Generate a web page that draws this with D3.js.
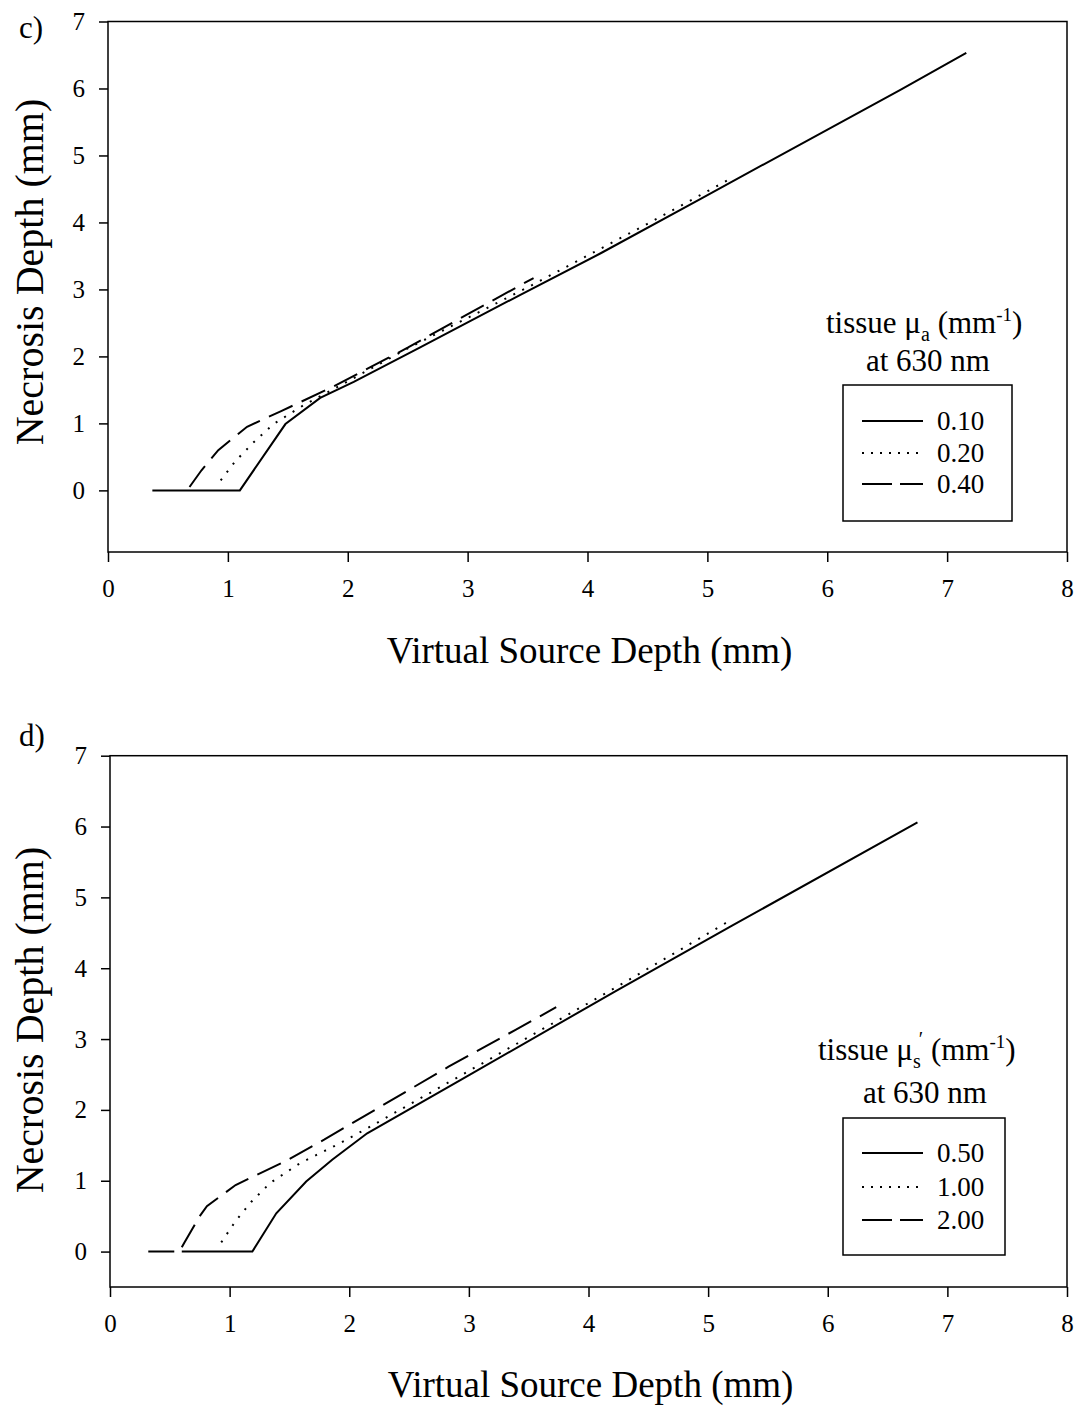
<!DOCTYPE html>
<html>
<head>
<meta charset="utf-8">
<script src="https://cdn.jsdelivr.net/npm/d3@7"></script>
<style>
  body { margin: 0; background: #fff; }
  text { font-family: "Liberation Serif", "Times New Roman", serif; fill: #000; }
</style>
</head>
<body>
<svg id="chart" width="1078" height="1406"></svg>
<script>
// x ticks / y ticks
const xTicks = [0, 1, 2, 3, 4, 5, 6, 7, 8];
const yTicks = [0, 1, 2, 3, 4, 5, 6, 7];

// panel c) - tissue mu_a at 630 nm
const cLabels = ['0.10', '0.20', '0.40'];
const cMua010 = [[0.37, 0], [1.10, 0], [1.48, 0.99], [1.77, 1.38], [2.05, 1.62], [2.6, 2.13], [3.44, 2.92], [4.11, 3.54], [4.94, 4.35], [6.61, 5.98], [7.16, 6.53]];
const cMua020 = [[0.94, 0.15], [1.06, 0.43], [1.21, 0.71], [1.38, 0.99], [1.63, 1.27], [1.87, 1.5], [2.5, 2.12], [3.5, 3.03], [4.5, 3.98], [5.18, 4.64]];
const cMua040 = [[0.68, 0.05], [0.78, 0.3], [0.92, 0.6], [1.16, 0.95], [1.44, 1.18], [1.88, 1.55], [2.5, 2.13], [3.02, 2.65], [3.55, 3.17]];

// panel d) - tissue mu_s' at 630 nm
const dLabels = ['0.50', '1.00', '2.00'];
const dMus050 = [[0.6, 0], [1.19, 0], [1.39, 0.54], [1.64, 0.99], [1.86, 1.3], [2.15, 1.67], [2.98, 2.47], [4.22, 3.67], [5.2, 4.6], [6.75, 6.06]];
const dMus100 = [[0.93, 0.13], [1.05, 0.43], [1.18, 0.7], [1.34, 0.97], [1.59, 1.25], [1.9, 1.51], [2.15, 1.74], [3.0, 2.55], [4.22, 3.72], [5.17, 4.66]];
const dMus200 = [[0.32, 0], [0.58, 0], [0.62, 0.12], [0.75, 0.5], [0.81, 0.64], [1.05, 0.94], [1.46, 1.27], [1.79, 1.58], [2.83, 2.61], [3.39, 3.13], [3.73, 3.45]];

const dashes = [null, '2,8', '26,10'];

const svg = d3.select('#chart');

function drawPanel(opt) {
    const x = d3.scaleLinear().domain([0, 8]).range([opt.left, opt.right]);
    const y = d3.scaleLinear().domain([opt.yMin, 7]).range([opt.bottom, opt.top]);
    const g = svg.append('g');

    // frame
    g.append('rect')
        .attr('x', opt.left).attr('y', opt.top)
        .attr('width', opt.right - opt.left).attr('height', opt.bottom - opt.top)
        .attr('fill', 'none').attr('stroke', '#000').attr('stroke-width', 1.5);

    // axes
    const xa = g.append('g')
        .attr('transform', `translate(0, ${opt.bottom})`)
        .call(d3.axisBottom(x).tickValues(xTicks).tickSize(10).tickSizeOuter(0).tickPadding(17).tickFormat(d3.format('d')));
    const ya = g.append('g')
        .attr('transform', `translate(${opt.left}, 0)`)
        .call(d3.axisLeft(y).tickValues(yTicks).tickSize(9).tickSizeOuter(0).tickPadding(14).tickFormat(d3.format('d')));
    [xa, ya].forEach(a => {
        a.select('.domain').remove();
        a.selectAll('line').attr('stroke', '#000').attr('stroke-width', 1.5);
        a.selectAll('text').style('font-family', '"Liberation Serif", serif').style('font-size', '25px').attr('fill', '#000');
    });

    // series
    const line = d3.line().x(d => x(d[0])).y(d => y(d[1]));
    opt.series.forEach((s, i) => {
        g.append('path')
            .datum(s)
            .attr('d', line)
            .attr('fill', 'none')
            .attr('stroke', '#000')
            .attr('stroke-width', 2)
            .attr('stroke-dasharray', dashes[i]);
    });

    // titles
    g.append('text')
        .attr('x', (opt.left + opt.right) / 2 + 2)
        .attr('y', opt.xTitleY)
        .attr('text-anchor', 'middle')
        .style('font-size', '37px')
        .text('Virtual Source Depth (mm)');
    g.append('text')
        .attr('transform', `translate(43, ${opt.yTitleMid}) rotate(-90)`)
        .attr('text-anchor', 'middle')
        .style('font-size', '40px')
        .text('Necrosis Depth (mm)');
    g.append('text')
        .attr('x', 19).attr('y', opt.panelY)
        .style('font-size', '31px')
        .text(opt.panel);

    // legend heading
    const t1 = g.append('text')
        .attr('x', opt.legTitleX).attr('y', opt.legTitleY)
        .style('font-size', '31px');
    t1.append('tspan').text('tissue \u03bc');
    t1.append('tspan').attr('dy', 8).style('font-size', '20px').text(opt.sub);
    if (opt.prime) {
        t1.append('tspan').attr('dx', -2).attr('dy', -22).style('font-size', '20px').text('\u2032');
        t1.append('tspan').attr('dy', 14).text(' (mm');
    } else {
        t1.append('tspan').attr('dy', -8).text(' (mm');
    }
    t1.append('tspan').attr('dy', -12).style('font-size', '19px').text('-1');
    t1.append('tspan').attr('dy', 12).text(')');

    g.append('text')
        .attr('x', opt.legAtX).attr('y', opt.legAtY)
        .attr('text-anchor', 'middle')
        .style('font-size', '31px')
        .text('at 630 nm');

    // legend box
    const lb = opt.legBox;
    g.append('rect')
        .attr('x', lb[0]).attr('y', lb[1])
        .attr('width', lb[2] - lb[0]).attr('height', lb[3] - lb[1])
        .attr('fill', '#fff').attr('stroke', '#000').attr('stroke-width', 1.5);
    opt.labels.forEach((lab, i) => {
        const ry = opt.rows[i];
        g.append('line')
            .attr('x1', 862).attr('x2', 923)
            .attr('y1', ry).attr('y2', ry)
            .attr('stroke', '#000').attr('stroke-width', 2)
            .attr('stroke-dasharray', i === 1 ? '2,7' : (i === 2 ? '30,8' : null));
        g.append('text')
            .attr('x', 937).attr('y', ry + 9)
            .style('font-size', '27px')
            .text(lab);
    });
}

drawPanel({
    panel: 'c)', panelY: 38,
    left: 108, right: 1067, top: 21.5, bottom: 552, yMin: -0.92,
    series: [cMua010, cMua020, cMua040], labels: cLabels,
    xTitleY: 663, yTitleMid: 272,
    sub: 'a', prime: false,
    legTitleX: 826, legTitleY: 333, legAtX: 928, legAtY: 371,
    legBox: [843, 385, 1012, 521], rows: [421, 453, 484]
});

drawPanel({
    panel: 'd)', panelY: 746,
    left: 110, right: 1067, top: 755.7, bottom: 1287, yMin: -0.5,
    series: [dMus050, dMus100, dMus200], labels: dLabels,
    xTitleY: 1397, yTitleMid: 1020,
    sub: 's', prime: true,
    legTitleX: 818, legTitleY: 1060, legAtX: 925, legAtY: 1103,
    legBox: [843, 1118, 1005, 1255], rows: [1153, 1187, 1220]
});
</script>
</body>
</html>
